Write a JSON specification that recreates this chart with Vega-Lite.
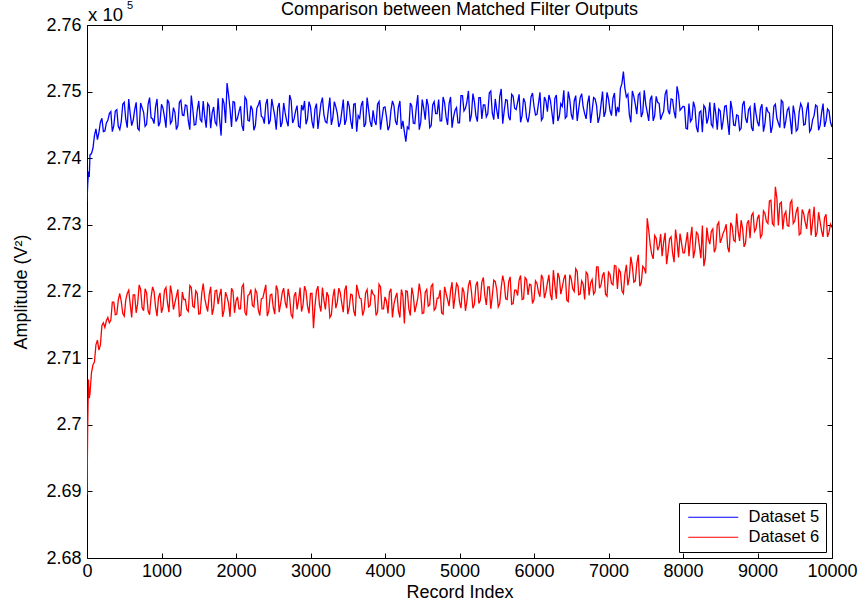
{
"$schema": "https://vega.github.io/schema/vega-lite/v6.json",
"width": 745, "height": 533,
"autosize": {"type": "none"},
"padding": {"left": 87, "top": 25, "right": 35, "bottom": 49},
"background": "white",
"title": {"text": "Comparison between Matched Filter Outputs", "font": "Liberation Sans", "fontSize": 18, "fontWeight": "normal", "color": "black", "offset": -19},
"config": {
 "view": {"stroke": "black", "strokeWidth": 1},
 "axis": {"labelFont": "Liberation Sans", "labelFontSize": 18, "labelColor": "black", "titleFont": "Liberation Sans", "titleFontSize": 18, "titleFontWeight": "normal", "titleColor": "black", "grid": false, "domain": false, "tickColor": "black", "tickSize": -5, "tickWidth": 1, "labelFlush": false, "labelOverlap": false}
},
"data": {"values": [
{"x":0,"a":2.7335,"b":2.6895},{"x":10,"a":2.7362,"b":2.7005},{"x":20,"a":2.7380,"b":2.7068},{"x":30,"a":2.7372,"b":2.7040},
{"x":40,"a":2.7405,"b":2.7047},{"x":80,"a":2.7415,"b":2.7090},{"x":120,"a":2.7444,"b":2.7120},{"x":160,"a":2.7439,"b":2.7112},{"x":200,"a":2.7460,"b":2.7149},
{"x":240,"a":2.7441,"b":2.7146},{"x":280,"a":2.7457,"b":2.7161},{"x":320,"a":2.7470,"b":2.7157},{"x":360,"a":2.7449,"b":2.7184},{"x":400,"a":2.7473,"b":2.7166},
{"x":440,"a":2.7443,"b":2.7197},{"x":480,"a":2.7481,"b":2.7167},{"x":520,"a":2.7459,"b":2.7187},{"x":560,"a":2.7489,"b":2.7202},{"x":600,"a":2.7449,"b":2.7161},
{"x":640,"a":2.7473,"b":2.7195},{"x":680,"a":2.7445,"b":2.7182},{"x":720,"a":2.7483,"b":2.7203},{"x":760,"a":2.7469,"b":2.7171},{"x":800,"a":2.7451,"b":2.7198},
{"x":840,"a":2.7491,"b":2.7165},{"x":880,"a":2.7459,"b":2.7207},{"x":920,"a":2.7477,"b":2.7177},{"x":960,"a":2.7448,"b":2.7191},{"x":1000,"a":2.7481,"b":2.7168},
{"x":1040,"a":2.7462,"b":2.7202},{"x":1080,"a":2.7488,"b":2.7183},{"x":1120,"a":2.7452,"b":2.7209},{"x":1160,"a":2.7476,"b":2.7173},{"x":1200,"a":2.7443,"b":2.7193},
{"x":1240,"a":2.7484,"b":2.7163},{"x":1280,"a":2.7465,"b":2.7199},{"x":1320,"a":2.7480,"b":2.7188},{"x":1360,"a":2.7456,"b":2.7170},{"x":1400,"a":2.7494,"b":2.7206},
{"x":1440,"a":2.7450,"b":2.7176},{"x":1480,"a":2.7472,"b":2.7197},{"x":1520,"a":2.7458,"b":2.7167},{"x":1560,"a":2.7486,"b":2.7212},{"x":1600,"a":2.7446,"b":2.7179},
{"x":1640,"a":2.7478,"b":2.7195},{"x":1680,"a":2.7468,"b":2.7165},{"x":1720,"a":2.7454,"b":2.7201},{"x":1760,"a":2.7490,"b":2.7181},{"x":1800,"a":2.7434,"b":2.7204},
{"x":1840,"a":2.7482,"b":2.7172},{"x":1880,"a":2.7513,"b":2.7192},{"x":1920,"a":2.7474,"b":2.7162},{"x":1960,"a":2.7485,"b":2.7200},{"x":2000,"a":2.7455,"b":2.7186},
{"x":2040,"a":2.7470,"b":2.7174},{"x":2080,"a":2.7449,"b":2.7207},{"x":2120,"a":2.7492,"b":2.7169},{"x":2160,"a":2.7457,"b":2.7194},{"x":2200,"a":2.7479,"b":2.7203},
{"x":2240,"a":2.7442,"b":2.7177},{"x":2280,"a":2.7475,"b":2.7198},{"x":2320,"a":2.7487,"b":2.7164},{"x":2360,"a":2.7461,"b":2.7190},{"x":2400,"a":2.7481,"b":2.7210},
{"x":2440,"a":2.7451,"b":2.7171},{"x":2480,"a":2.7489,"b":2.7196},{"x":2520,"a":2.7464,"b":2.7166},{"x":2560,"a":2.7476,"b":2.7202},{"x":2600,"a":2.7447,"b":2.7182},
{"x":2640,"a":2.7483,"b":2.7205},{"x":2680,"a":2.7456,"b":2.7175},{"x":2720,"a":2.7495,"b":2.7191},{"x":2760,"a":2.7453,"b":2.7161},{"x":2800,"a":2.7471,"b":2.7199},
{"x":2840,"a":2.7448,"b":2.7187},{"x":2880,"a":2.7480,"b":2.7170},{"x":2920,"a":2.7486,"b":2.7208},{"x":2960,"a":2.7459,"b":2.7178},{"x":3000,"a":2.7477,"b":2.7197},
{"x":3040,"a":2.7445,"b":2.7145},{"x":3080,"a":2.7482,"b":2.7201},{"x":3120,"a":2.7463,"b":2.7180},{"x":3160,"a":2.7491,"b":2.7206},{"x":3200,"a":2.7455,"b":2.7173},
{"x":3240,"a":2.7473,"b":2.7193},{"x":3280,"a":2.7450,"b":2.7165},{"x":3320,"a":2.7485,"b":2.7204},{"x":3360,"a":2.7467,"b":2.7184},{"x":3400,"a":2.7453,"b":2.7198},
{"x":3440,"a":2.7488,"b":2.7169},{"x":3480,"a":2.7458,"b":2.7209},{"x":3520,"a":2.7478,"b":2.7176},{"x":3560,"a":2.7444,"b":2.7195},{"x":3600,"a":2.7482,"b":2.7163},
{"x":3640,"a":2.7464,"b":2.7200},{"x":3680,"a":2.7479,"b":2.7189},{"x":3720,"a":2.7447,"b":2.7172},{"x":3760,"a":2.7491,"b":2.7203},{"x":3800,"a":2.7455,"b":2.7179},
{"x":3840,"a":2.7472,"b":2.7196},{"x":3880,"a":2.7450,"b":2.7164},{"x":3920,"a":2.7485,"b":2.7211},{"x":3960,"a":2.7460,"b":2.7174},{"x":4000,"a":2.7477,"b":2.7192},
{"x":4040,"a":2.7442,"b":2.7167},{"x":4080,"a":2.7472,"b":2.7204},{"x":4120,"a":2.7479,"b":2.7181},{"x":4160,"a":2.7450,"b":2.7198},{"x":4200,"a":2.7486,"b":2.7161},
{"x":4240,"a":2.7456,"b":2.7193},{"x":4280,"a":2.7425,"b":2.7201},{"x":4320,"a":2.7444,"b":2.7174},{"x":4360,"a":2.7478,"b":2.7206},{"x":4400,"a":2.7452,"b":2.7169},
{"x":4440,"a":2.7495,"b":2.7190},{"x":4480,"a":2.7454,"b":2.7197},{"x":4520,"a":2.7475,"b":2.7168},{"x":4560,"a":2.7489,"b":2.7203},{"x":4600,"a":2.7446,"b":2.7180},
{"x":4640,"a":2.7480,"b":2.7211},{"x":4680,"a":2.7467,"b":2.7175},{"x":4720,"a":2.7488,"b":2.7190},{"x":4760,"a":2.7456,"b":2.7168},{"x":4800,"a":2.7483,"b":2.7207},
{"x":4840,"a":2.7450,"b":2.7188},{"x":4880,"a":2.7492,"b":2.7201},{"x":4920,"a":2.7462,"b":2.7174},{"x":4960,"a":2.7476,"b":2.7212},{"x":5000,"a":2.7453,"b":2.7184},
{"x":5040,"a":2.7494,"b":2.7206},{"x":5080,"a":2.7475,"b":2.7171},{"x":5120,"a":2.7501,"b":2.7209},{"x":5160,"a":2.7465,"b":2.7200},{"x":5200,"a":2.7485,"b":2.7181},
{"x":5240,"a":2.7455,"b":2.7215},{"x":5280,"a":2.7491,"b":2.7187},{"x":5320,"a":2.7480,"b":2.7221},{"x":5360,"a":2.7462,"b":2.7180},{"x":5400,"a":2.7498,"b":2.7207},
{"x":5440,"a":2.7468,"b":2.7193},{"x":5480,"a":2.7489,"b":2.7215},{"x":5520,"a":2.7459,"b":2.7177},{"x":5560,"a":2.7504,"b":2.7206},{"x":5600,"a":2.7471,"b":2.7213},
{"x":5640,"a":2.7487,"b":2.7188},{"x":5680,"a":2.7457,"b":2.7222},{"x":5720,"a":2.7493,"b":2.7182},{"x":5760,"a":2.7473,"b":2.7202},{"x":5800,"a":2.7496,"b":2.7217},
{"x":5840,"a":2.7464,"b":2.7188},{"x":5880,"a":2.7484,"b":2.7221},{"x":5920,"a":2.7454,"b":2.7195},{"x":5960,"a":2.7492,"b":2.7210},{"x":6000,"a":2.7478,"b":2.7188},
{"x":6040,"a":2.7466,"b":2.7212},{"x":6080,"a":2.7499,"b":2.7192},{"x":6120,"a":2.7461,"b":2.7219},{"x":6160,"a":2.7486,"b":2.7199},{"x":6200,"a":2.7495,"b":2.7225},
{"x":6240,"a":2.7469,"b":2.7187},{"x":6280,"a":2.7490,"b":2.7210},{"x":6320,"a":2.7456,"b":2.7228},{"x":6360,"a":2.7482,"b":2.7196},{"x":6400,"a":2.7502,"b":2.7219},
{"x":6440,"a":2.7463,"b":2.7187},{"x":6480,"a":2.7488,"b":2.7225},{"x":6520,"a":2.7458,"b":2.7204},{"x":6560,"a":2.7494,"b":2.7234},{"x":6600,"a":2.7474,"b":2.7195},
{"x":6640,"a":2.7497,"b":2.7216},{"x":6680,"a":2.7467,"b":2.7188},{"x":6720,"a":2.7483,"b":2.7226},{"x":6760,"a":2.7453,"b":2.7213},{"x":6800,"a":2.7491,"b":2.7196},
{"x":6840,"a":2.7479,"b":2.7237},{"x":6880,"a":2.7462,"b":2.7205},{"x":6920,"a":2.7500,"b":2.7224},{"x":6960,"a":2.7470,"b":2.7196},{"x":7000,"a":2.7489,"b":2.7229},
{"x":7040,"a":2.7464,"b":2.7212},{"x":7080,"a":2.7498,"b":2.7239},{"x":7120,"a":2.7477,"b":2.7204},{"x":7160,"a":2.7505,"b":2.7229},{"x":7200,"a":2.7530,"b":2.7197},
{"x":7240,"a":2.7492,"b":2.7240},{"x":7280,"a":2.7465,"b":2.7222},{"x":7320,"a":2.7501,"b":2.7238},{"x":7360,"a":2.7481,"b":2.7216},{"x":7400,"a":2.7495,"b":2.7255},
{"x":7440,"a":2.7462,"b":2.7213},{"x":7480,"a":2.7502,"b":2.7235},{"x":7520,"a":2.7469,"b":2.7310},{"x":7560,"a":2.7488,"b":2.7270},{"x":7600,"a":2.7456,"b":2.7249},
{"x":7640,"a":2.7493,"b":2.7280},{"x":7680,"a":2.7482,"b":2.7268},{"x":7720,"a":2.7465,"b":2.7253},{"x":7760,"a":2.7496,"b":2.7288},{"x":7800,"a":2.7472,"b":2.7259},
{"x":7840,"a":2.7489,"b":2.7282},{"x":7880,"a":2.7470,"b":2.7244},{"x":7920,"a":2.7508,"b":2.7275},{"x":7960,"a":2.7472,"b":2.7287},{"x":8000,"a":2.7478,"b":2.7258},
{"x":8040,"a":2.7445,"b":2.7274},{"x":8080,"a":2.7482,"b":2.7253},{"x":8120,"a":2.7459,"b":2.7297},{"x":8160,"a":2.7476,"b":2.7262},{"x":8200,"a":2.7439,"b":2.7286},
{"x":8240,"a":2.7471,"b":2.7250},{"x":8280,"a":2.7479,"b":2.7238},{"x":8320,"a":2.7452,"b":2.7296},{"x":8360,"a":2.7484,"b":2.7271},{"x":8400,"a":2.7447,"b":2.7294},
{"x":8440,"a":2.7467,"b":2.7265},{"x":8480,"a":2.7474,"b":2.7304},{"x":8520,"a":2.7443,"b":2.7280},{"x":8560,"a":2.7478,"b":2.7293},{"x":8600,"a":2.7455,"b":2.7266},
{"x":8640,"a":2.7486,"b":2.7303},{"x":8680,"a":2.7450,"b":2.7277},{"x":8720,"a":2.7465,"b":2.7317},{"x":8760,"a":2.7442,"b":2.7276},{"x":8800,"a":2.7480,"b":2.7295},
{"x":8840,"a":2.7460,"b":2.7273},{"x":8880,"a":2.7473,"b":2.7307},{"x":8920,"a":2.7446,"b":2.7314},{"x":8960,"a":2.7483,"b":2.7290},{"x":9000,"a":2.7454,"b":2.7310},
{"x":9040,"a":2.7475,"b":2.7281},{"x":9080,"a":2.7440,"b":2.7321},{"x":9120,"a":2.7477,"b":2.7305},{"x":9160,"a":2.7468,"b":2.7336},{"x":9200,"a":2.7448,"b":2.7302},
{"x":9240,"a":2.7481,"b":2.7357},{"x":9280,"a":2.7453,"b":2.7299},{"x":9320,"a":2.7487,"b":2.7334},{"x":9360,"a":2.7445,"b":2.7315},{"x":9400,"a":2.7472,"b":2.7299},
{"x":9440,"a":2.7458,"b":2.7333},{"x":9480,"a":2.7479,"b":2.7302},{"x":9520,"a":2.7441,"b":2.7320},{"x":9560,"a":2.7470,"b":2.7285},{"x":9600,"a":2.7476,"b":2.7323},
{"x":9640,"a":2.7451,"b":2.7304},{"x":9680,"a":2.7484,"b":2.7317},{"x":9720,"a":2.7444,"b":2.7284},{"x":9760,"a":2.7464,"b":2.7327},{"x":9800,"a":2.7478,"b":2.7289},
{"x":9840,"a":2.7449,"b":2.7305},{"x":9880,"a":2.7482,"b":2.7282},{"x":9920,"a":2.7456,"b":2.7316},{"x":9960,"a":2.7471,"b":2.7289},{"x":10000,"a":2.7447,"b":2.7296},
{"x":60,"a":2.7407,"b":2.7078},{"x":100,"a":2.7434,"b":2.7094},{"x":140,"a":2.7428,"b":2.7127},{"x":180,"a":2.7454,"b":2.7120},{"x":220,"a":2.7440,"b":2.7153},
{"x":260,"a":2.7453,"b":2.7156},{"x":300,"a":2.7467,"b":2.7153},{"x":340,"a":2.7440,"b":2.7184},{"x":380,"a":2.7471,"b":2.7165},{"x":420,"a":2.7448,"b":2.7187},
{"x":460,"a":2.7455,"b":2.7185},{"x":500,"a":2.7484,"b":2.7163},{"x":540,"a":2.7446,"b":2.7197},{"x":580,"a":2.7467,"b":2.7181},{"x":620,"a":2.7457,"b":2.7195},
{"x":660,"a":2.7484,"b":2.7168},{"x":700,"a":2.7442,"b":2.7210},{"x":740,"a":2.7476,"b":2.7176},{"x":780,"a":2.7448,"b":2.7204},{"x":820,"a":2.7481,"b":2.7171},
{"x":860,"a":2.7461,"b":2.7191},{"x":900,"a":2.7452,"b":2.7200},{"x":940,"a":2.7489,"b":2.7163},{"x":980,"a":2.7454,"b":2.7198},{"x":1020,"a":2.7475,"b":2.7177},
{"x":1060,"a":2.7446,"b":2.7206},{"x":1100,"a":2.7483,"b":2.7169},{"x":1140,"a":2.7456,"b":2.7196},{"x":1180,"a":2.7469,"b":2.7183},{"x":1220,"a":2.7449,"b":2.7203},
{"x":1260,"a":2.7487,"b":2.7165},{"x":1300,"a":2.7464,"b":2.7188},{"x":1340,"a":2.7479,"b":2.7173},{"x":1380,"a":2.7443,"b":2.7209},{"x":1420,"a":2.7474,"b":2.7178},
{"x":1460,"a":2.7451,"b":2.7201},{"x":1500,"a":2.7486,"b":2.7166},{"x":1540,"a":2.7455,"b":2.7197},{"x":1580,"a":2.7462,"b":2.7190},{"x":1620,"a":2.7482,"b":2.7170},
{"x":1660,"a":2.7445,"b":2.7207},{"x":1700,"a":2.7477,"b":2.7175},{"x":1740,"a":2.7450,"b":2.7202},{"x":1780,"a":2.7458,"b":2.7194},{"x":1820,"a":2.7490,"b":2.7162},
{"x":1860,"a":2.7453,"b":2.7199},{"x":1900,"a":2.7495,"b":2.7182},{"x":1940,"a":2.7447,"b":2.7205},{"x":1980,"a":2.7484,"b":2.7168},{"x":2020,"a":2.7460,"b":2.7192},
{"x":2060,"a":2.7478,"b":2.7174},{"x":2100,"a":2.7441,"b":2.7211},{"x":2140,"a":2.7488,"b":2.7164},{"x":2180,"a":2.7456,"b":2.7196},{"x":2220,"a":2.7473,"b":2.7179},
{"x":2260,"a":2.7449,"b":2.7203},{"x":2300,"a":2.7480,"b":2.7172},{"x":2340,"a":2.7463,"b":2.7189},{"x":2380,"a":2.7452,"b":2.7200},{"x":2420,"a":2.7489,"b":2.7163},
{"x":2460,"a":2.7457,"b":2.7195},{"x":2500,"a":2.7476,"b":2.7176},{"x":2540,"a":2.7443,"b":2.7209},{"x":2580,"a":2.7483,"b":2.7169},{"x":2620,"a":2.7454,"b":2.7198},
{"x":2660,"a":2.7468,"b":2.7184},{"x":2700,"a":2.7448,"b":2.7204},{"x":2740,"a":2.7487,"b":2.7165},{"x":2780,"a":2.7459,"b":2.7193},{"x":2820,"a":2.7479,"b":2.7173},
{"x":2860,"a":2.7446,"b":2.7206},{"x":2900,"a":2.7472,"b":2.7180},{"x":2940,"a":2.7451,"b":2.7201},{"x":2980,"a":2.7485,"b":2.7167},{"x":3020,"a":2.7455,"b":2.7197},
{"x":3060,"a":2.7474,"b":2.7178},{"x":3100,"a":2.7444,"b":2.7208},{"x":3140,"a":2.7482,"b":2.7170},{"x":3180,"a":2.7465,"b":2.7187},{"x":3220,"a":2.7453,"b":2.7199},
{"x":3260,"a":2.7491,"b":2.7161},{"x":3300,"a":2.7461,"b":2.7191},{"x":3340,"a":2.7477,"b":2.7175},{"x":3380,"a":2.7447,"b":2.7205},{"x":3420,"a":2.7470,"b":2.7182},
{"x":3460,"a":2.7450,"b":2.7202},{"x":3500,"a":2.7486,"b":2.7166},{"x":3540,"a":2.7456,"b":2.7196},{"x":3580,"a":2.7481,"b":2.7171},{"x":3620,"a":2.7440,"b":2.7210},
{"x":3660,"a":2.7460,"b":2.7190},{"x":3700,"a":2.7486,"b":2.7164},{"x":3740,"a":2.7452,"b":2.7198},{"x":3780,"a":2.7473,"b":2.7177},{"x":3820,"a":2.7447,"b":2.7203},
{"x":3860,"a":2.7456,"b":2.7194},{"x":3900,"a":2.7481,"b":2.7169},{"x":3940,"a":2.7443,"b":2.7207},{"x":3980,"a":2.7476,"b":2.7174},{"x":4020,"a":2.7462,"b":2.7185},
{"x":4060,"a":2.7448,"b":2.7199},{"x":4100,"a":2.7486,"b":2.7161},{"x":4140,"a":2.7456,"b":2.7191},{"x":4180,"a":2.7476,"b":2.7171},{"x":4220,"a":2.7444,"b":2.7203},
{"x":4260,"a":2.7440,"b":2.7152},{"x":4300,"a":2.7447,"b":2.7200},{"x":4340,"a":2.7483,"b":2.7164},{"x":4380,"a":2.7453,"b":2.7194},{"x":4420,"a":2.7476,"b":2.7179},
{"x":4460,"a":2.7443,"b":2.7212},{"x":4500,"a":2.7488,"b":2.7167},{"x":4540,"a":2.7458,"b":2.7199},{"x":4580,"a":2.7479,"b":2.7178},{"x":4620,"a":2.7449,"b":2.7208},
{"x":4660,"a":2.7485,"b":2.7172},{"x":4700,"a":2.7467,"b":2.7190},{"x":4740,"a":2.7456,"b":2.7202},{"x":4780,"a":2.7492,"b":2.7166},{"x":4820,"a":2.7462,"b":2.7197},
{"x":4860,"a":2.7482,"b":2.7178},{"x":4900,"a":2.7446,"b":2.7214},{"x":4940,"a":2.7472,"b":2.7193},{"x":4980,"a":2.7453,"b":2.7208},{"x":5020,"a":2.7494,"b":2.7175},
{"x":5060,"a":2.7471,"b":2.7199},{"x":5100,"a":2.7485,"b":2.7186},{"x":5140,"a":2.7455,"b":2.7217},{"x":5180,"a":2.7497,"b":2.7175},{"x":5220,"a":2.7464,"b":2.7209},
{"x":5260,"a":2.7491,"b":2.7182},{"x":5300,"a":2.7459,"b":2.7214},{"x":5340,"a":2.7480,"b":2.7194},{"x":5380,"a":2.7467,"b":2.7207},{"x":5420,"a":2.7501,"b":2.7174},
{"x":5460,"a":2.7458,"b":2.7217},{"x":5500,"a":2.7472,"b":2.7203},{"x":5540,"a":2.7493,"b":2.7182},{"x":5580,"a":2.7452,"b":2.7224},{"x":5620,"a":2.7488,"b":2.7189},
{"x":5660,"a":2.7462,"b":2.7215},{"x":5700,"a":2.7496,"b":2.7181},{"x":5740,"a":2.7475,"b":2.7202},{"x":5780,"a":2.7484,"b":2.7194},{"x":5820,"a":2.7454,"b":2.7224},
{"x":5860,"a":2.7490,"b":2.7189},{"x":5900,"a":2.7461,"b":2.7218},{"x":5940,"a":2.7468,"b":2.7211},{"x":5980,"a":2.7498,"b":2.7182},{"x":6020,"a":2.7465,"b":2.7216},
{"x":6060,"a":2.7482,"b":2.7199},{"x":6100,"a":2.7457,"b":2.7225},{"x":6140,"a":2.7492,"b":2.7190},{"x":6180,"a":2.7470,"b":2.7213},{"x":6220,"a":2.7487,"b":2.7196},
{"x":6260,"a":2.7451,"b":2.7232},{"x":6300,"a":2.7495,"b":2.7189},{"x":6340,"a":2.7463,"b":2.7221},{"x":6380,"a":2.7478,"b":2.7207},{"x":6420,"a":2.7460,"b":2.7225},
{"x":6460,"a":2.7500,"b":2.7185},{"x":6500,"a":2.7466,"b":2.7219},{"x":6540,"a":2.7486,"b":2.7200},{"x":6580,"a":2.7456,"b":2.7230},{"x":6620,"a":2.7491,"b":2.7196},
{"x":6660,"a":2.7477,"b":2.7211},{"x":6700,"a":2.7459,"b":2.7229},{"x":6740,"a":2.7494,"b":2.7194},{"x":6780,"a":2.7471,"b":2.7218},{"x":6820,"a":2.7489,"b":2.7200},
{"x":6860,"a":2.7453,"b":2.7237},{"x":6900,"a":2.7481,"b":2.7210},{"x":6940,"a":2.7462,"b":2.7229},{"x":6980,"a":2.7499,"b":2.7193},{"x":7020,"a":2.7472,"b":2.7226},
{"x":7060,"a":2.7490,"b":2.7210},{"x":7100,"a":2.7463,"b":2.7238},{"x":7140,"a":2.7469,"b":2.7233},{"x":7180,"a":2.7512,"b":2.7201},{"x":7220,"a":2.7505,"b":2.7226},
{"x":7260,"a":2.7496,"b":2.7209},{"x":7300,"a":2.7454,"b":2.7252},{"x":7340,"a":2.7493,"b":2.7214},{"x":7380,"a":2.7466,"b":2.7242},{"x":7420,"a":2.7498,"b":2.7208},
{"x":7460,"a":2.7469,"b":2.7238},{"x":7500,"a":2.7481,"b":2.7227},{"x":7540,"a":2.7456,"b":2.7292},{"x":7580,"a":2.7494,"b":2.7256},{"x":7620,"a":2.7464,"b":2.7284},
{"x":7660,"a":2.7484,"b":2.7262},{"x":7700,"a":2.7458,"b":2.7286},{"x":7740,"a":2.7470,"b":2.7274},{"x":7780,"a":2.7503,"b":2.7241},{"x":7820,"a":2.7466,"b":2.7279},
{"x":7860,"a":2.7488,"b":2.7258},{"x":7900,"a":2.7460,"b":2.7293},{"x":7940,"a":2.7496,"b":2.7251},{"x":7980,"a":2.7475,"b":2.7273},{"x":8020,"a":2.7477,"b":2.7258},
{"x":8060,"a":2.7444,"b":2.7289},{"x":8100,"a":2.7455,"b":2.7279},{"x":8140,"a":2.7485,"b":2.7250},{"x":8180,"a":2.7447,"b":2.7289},{"x":8220,"a":2.7469,"b":2.7268},
{"x":8260,"a":2.7439,"b":2.7299},{"x":8300,"a":2.7475,"b":2.7250},{"x":8340,"a":2.7461,"b":2.7279},{"x":8380,"a":2.7451,"b":2.7290},{"x":8420,"a":2.7483,"b":2.7259},
{"x":8460,"a":2.7443,"b":2.7300},{"x":8500,"a":2.7471,"b":2.7273},{"x":8540,"a":2.7457,"b":2.7288},{"x":8580,"a":2.7479,"b":2.7301},{"x":8620,"a":2.7435,"b":2.7259},
{"x":8660,"a":2.7473,"b":2.7298},{"x":8700,"a":2.7449,"b":2.7275},{"x":8740,"a":2.7464,"b":2.7291},{"x":8780,"a":2.7445,"b":2.7307},{"x":8820,"a":2.7486,"b":2.7267},
{"x":8860,"a":2.7453,"b":2.7302},{"x":8900,"a":2.7477,"b":2.7280},{"x":8940,"a":2.7441,"b":2.7318},{"x":8980,"a":2.7467,"b":2.7294},{"x":9020,"a":2.7448,"b":2.7315},
{"x":9060,"a":2.7481,"b":2.7285},{"x":9100,"a":2.7452,"b":2.7317},{"x":9140,"a":2.7470,"b":2.7302},{"x":9180,"a":2.7438,"b":2.7337},{"x":9220,"a":2.7478,"b":2.7299},
{"x":9260,"a":2.7460,"b":2.7340},{"x":9300,"a":2.7446,"b":2.7332},{"x":9340,"a":2.7484,"b":2.7293},{"x":9380,"a":2.7456,"b":2.7320},{"x":9420,"a":2.7476,"b":2.7298},
{"x":9460,"a":2.7436,"b":2.7337},{"x":9500,"a":2.7466,"b":2.7306},{"x":9540,"a":2.7444,"b":2.7327},{"x":9580,"a":2.7482,"b":2.7287},{"x":9620,"a":2.7450,"b":2.7317},
{"x":9660,"a":2.7472,"b":2.7294},{"x":9700,"a":2.7440,"b":2.7324},{"x":9740,"a":2.7458,"b":2.7305},{"x":9780,"a":2.7480,"b":2.7282},{"x":9820,"a":2.7442,"b":2.7319},
{"x":9860,"a":2.7468,"b":2.7291},{"x":9900,"a":2.7447,"b":2.7311},{"x":9940,"a":2.7474,"b":2.7282},{"x":9980,"a":2.7454,"b":2.7301}
]},
"layer": [
 {
  "transform": [{"fold": ["a", "b"], "as": ["series", "value"]}],
  "mark": {"type": "line", "strokeWidth": 1.3, "clip": true},
  "encoding": {
   "x": {"field": "x", "type": "quantitative", "scale": {"domain": [0, 10000], "nice": false, "zero": false},
         "axis": {"orient": "bottom", "values": [0,1000,2000,3000,4000,5000,6000,7000,8000,9000,10000], "format": "d", "labelPadding": 9, "title": "Record Index", "titlePadding": 3}},
   "y": {"field": "value", "type": "quantitative", "scale": {"domain": [2.68, 2.76], "nice": false, "zero": false},
         "axis": {"orient": "left", "values": [2.68,2.69,2.7,2.71,2.72,2.73,2.74,2.75,2.76], "format": "~g", "labelPadding": 11, "title": "Amplitude (V²)", "titlePadding": 15}},
   "color": {"field": "series", "type": "nominal", "scale": {"domain": ["a", "b"], "range": ["#0000ff", "#ff0000"]},
    "legend": {"orient": "bottom-right", "offset": 6, "title": null, "labelExpr": "datum.label == 'a' ? 'Dataset 5' : 'Dataset 6'",
               "symbolType": "M-1,0H9", "symbolSize": 100, "symbolStrokeWidth": 1, "labelFont": "Liberation Sans", "labelFontSize": 16.5, "labelColor": "black",
               "strokeColor": "black", "fillColor": "white", "padding": 6, "rowPadding": 3, "labelOffset": 47}}
  }
 },
 {
  "mark": {"type": "point", "opacity": 0},
  "encoding": {
   "x": {"field": "x", "type": "quantitative", "axis": {"orient": "top", "values": [0,1000,2000,3000,4000,5000,6000,7000,8000,9000,10000], "labels": false, "title": null}},
   "y": {"field": "a", "type": "quantitative", "axis": {"orient": "right", "values": [2.68,2.69,2.7,2.71,2.72,2.73,2.74,2.75,2.76], "labels": false, "title": null}}
  }
 },
 {
  "data": {"values": [{"x": 0, "v": 2.76, "t": "x 10"}]},
  "mark": {"type": "text", "align": "left", "baseline": "alphabetic", "dx": 1, "dy": -4, "font": "Liberation Sans", "fontSize": 18.5, "color": "black"},
  "encoding": {
   "x": {"field": "x", "type": "quantitative", "axis": null},
   "y": {"field": "v", "type": "quantitative", "axis": null},
   "text": {"field": "t"}
  }
 },
 {
  "data": {"values": [{"x": 0, "v": 2.76, "t": "5"}]},
  "mark": {"type": "text", "align": "left", "baseline": "alphabetic", "dx": 40, "dy": -16, "font": "Liberation Sans", "fontSize": 11, "color": "black"},
  "encoding": {
   "x": {"field": "x", "type": "quantitative", "axis": null},
   "y": {"field": "v", "type": "quantitative", "axis": null},
   "text": {"field": "t"}
  }
 }
],
"resolve": {"axis": {"x": "independent", "y": "independent"}}
}
